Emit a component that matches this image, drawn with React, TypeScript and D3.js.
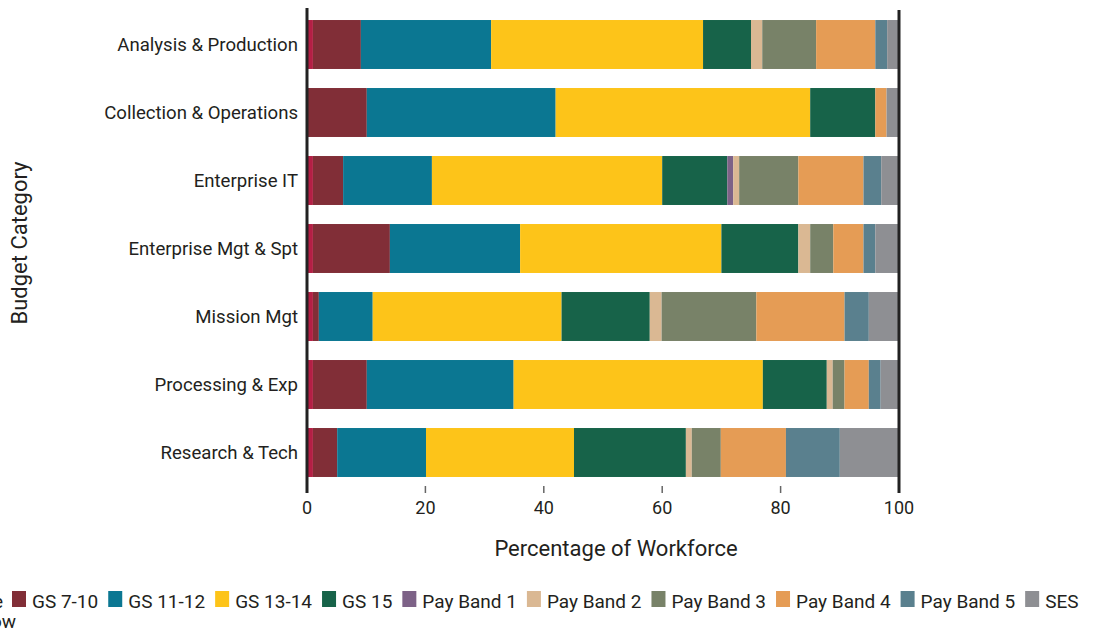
import React, { useEffect, useRef } from "react";
import * as d3 from "d3";

const categories = [
  "Analysis & Production",
  "Collection & Operations",
  "Enterprise IT",
  "Enterprise Mgt & Spt",
  "Mission Mgt",
  "Processing & Exp",
  "Research & Tech",
];

const seriesNames = [
  "GS 6 and Below",
  "GS 7-10",
  "GS 11-12",
  "GS 13-14",
  "GS 15",
  "Pay Band 1",
  "Pay Band 2",
  "Pay Band 3",
  "Pay Band 4",
  "Pay Band 5",
  "SES",
];

const seriesColors = [
  "#B41F45",
  "#812E37",
  "#0B7792",
  "#FDC419",
  "#176349",
  "#7D6287",
  "#DAB893",
  "#788268",
  "#E59C55",
  "#5A808E",
  "#8E8F93",
];

// values per category, in series order (percent)
const analysisProduction = [1.0, 8.1, 22.0, 35.8, 8.1, 0, 1.9, 9.1, 10.0, 2.0, 2.0];
const collectionOperations = [0, 10.1, 31.9, 43.0, 11.0, 0, 0, 0, 1.9, 0, 2.1];
const enterpriseIT = [1.0, 5.1, 15.0, 38.9, 11.0, 1.0, 1.0, 10.0, 11.0, 3.0, 3.0];
const enterpriseMgt = [1.0, 13.0, 22.0, 34.0, 13.0, 0, 2.0, 3.9, 5.1, 2.0, 4.0];
const missionMgt = [1.0, 1.0, 9.1, 31.9, 14.9, 0, 2.0, 16.0, 14.9, 4.1, 5.1];
const processingExp = [1.0, 9.1, 24.8, 42.1, 10.8, 0, 1.0, 2.0, 4.1, 2.0, 3.1];
const researchTech = [1.0, 4.1, 15.0, 25.0, 18.9, 0, 1.0, 4.9, 11.0, 9.1, 10.0];

const values = [
  analysisProduction,
  collectionOperations,
  enterpriseIT,
  enterpriseMgt,
  missionMgt,
  processingExp,
  researchTech,
];

const xTicks = [0, 20, 40, 60, 80, 100];

const W = 1098;
const H = 629;
const FONT = "Roboto, 'Liberation Sans', sans-serif";
const TEXT = "#231f20";

export default function App() {
  const ref = useRef<SVGSVGElement>(null);

  useEffect(() => {
    document.body.style.margin = "0";
    const svg = d3.select(ref.current);
    svg.selectAll("*").remove();

    const x = d3.scaleLinear().domain([0, 100]).range([307, 899]);
    const y = d3
      .scaleBand<string>()
      .domain(categories)
      .range([10.5, 486.5])
      .paddingInner(0.28)
      .paddingOuter(0.14);

    const table = categories.map((c, i) => {
      const row: any = { category: c };
      seriesNames.forEach((s, j) => (row[s] = values[i][j]));
      return row;
    });
    const stacked = d3.stack<any>().keys(seriesNames)(table);

    const g = svg.append("g");
    stacked.forEach((layer, j) => {
      g.append("g")
        .attr("fill", seriesColors[j])
        .selectAll("rect")
        .data(layer)
        .join("rect")
        .attr("x", (d) => x(d[0]))
        .attr("width", (d) => Math.max(0, x(d[1]) - x(d[0])))
        .attr("y", (d) => y(d.data.category)!)
        .attr("height", y.bandwidth());
    });

    // ticks
    const axisG = svg.append("g");
    axisG
      .selectAll("line.tick")
      .data(xTicks)
      .join("line")
      .attr("x1", (d) => x(d))
      .attr("x2", (d) => x(d))
      .attr("y1", 486)
      .attr("y2", 493)
      .attr("stroke", "#666")
      .attr("stroke-width", 1.5);
    axisG
      .selectAll("text")
      .data(xTicks)
      .join("text")
      .attr("x", (d) => x(d))
      .attr("y", 514)
      .attr("text-anchor", "middle")
      .attr("font-family", FONT)
      .attr("font-size", 18)
      .attr("fill", TEXT)
      .text((d) => String(d));

    // boundary lines at 0 and 100
    [0, 100].forEach((v) => {
      svg
        .append("line")
        .attr("x1", x(v))
        .attr("x2", x(v))
        .attr("y1", v === 0 ? 8 : 10)
        .attr("y2", 493)
        .attr("stroke", "#222")
        .attr("stroke-width", 3);
    });

    // category labels
    svg
      .append("g")
      .selectAll("text")
      .data(categories)
      .join("text")
      .attr("x", 298)
      .attr("y", (d) => y(d)! + y.bandwidth() / 2)
      .attr("dy", "0.35em")
      .attr("text-anchor", "end")
      .attr("font-family", FONT)
      .attr("font-size", 18.6)
      .attr("fill", TEXT)
      .text((d) => d);

    // axis titles
    svg
      .append("text")
      .attr("x", 616)
      .attr("y", 556)
      .attr("text-anchor", "middle")
      .attr("font-family", FONT)
      .attr("font-size", 22)
      .attr("fill", TEXT)
      .text("Percentage of Workforce");
    svg
      .append("text")
      .attr("transform", "translate(27,243) rotate(-90)")
      .attr("text-anchor", "middle")
      .attr("font-family", FONT)
      .attr("font-size", 22)
      .attr("fill", TEXT)
      .text("Budget Category");

    // legend
    const lg = svg.append("g");
    // first item is cut off at the left, wrapped on two lines
    lg.append("rect")
      .attr("x", -100)
      .attr("y", 591)
      .attr("width", 14)
      .attr("height", 16)
      .attr("fill", seriesColors[0]);
    lg.append("text")
      .attr("x", 3)
      .attr("y", 608)
      .attr("text-anchor", "end")
      .attr("font-family", FONT)
      .attr("font-size", 19)
      .attr("fill", TEXT)
      .text("GS 6 and Be");
    lg.append("text")
      .attr("x", 16)
      .attr("y", 628)
      .attr("text-anchor", "end")
      .attr("font-family", FONT)
      .attr("font-size", 19)
      .attr("fill", TEXT)
      .text("Below");

    let cx = 12;
    seriesNames.slice(1).forEach((name, k) => {
      const j = k + 1;
      lg.append("rect")
        .attr("x", cx)
        .attr("y", 591)
        .attr("width", 14)
        .attr("height", 16)
        .attr("fill", seriesColors[j]);
      const t = lg
        .append("text")
        .attr("x", cx + 20)
        .attr("y", 608)
        .attr("font-family", FONT)
        .attr("font-size", 19)
        .attr("fill", TEXT)
        .text(name);
      const w = (t.node() as SVGTextElement).getComputedTextLength();
      cx += 20 + w + 10;
    });
  }, []);

  return (
    <svg
      ref={ref}
      width={W}
      height={H}
      style={{ display: "block", overflow: "hidden", background: "#fff" }}
    />
  );
}
